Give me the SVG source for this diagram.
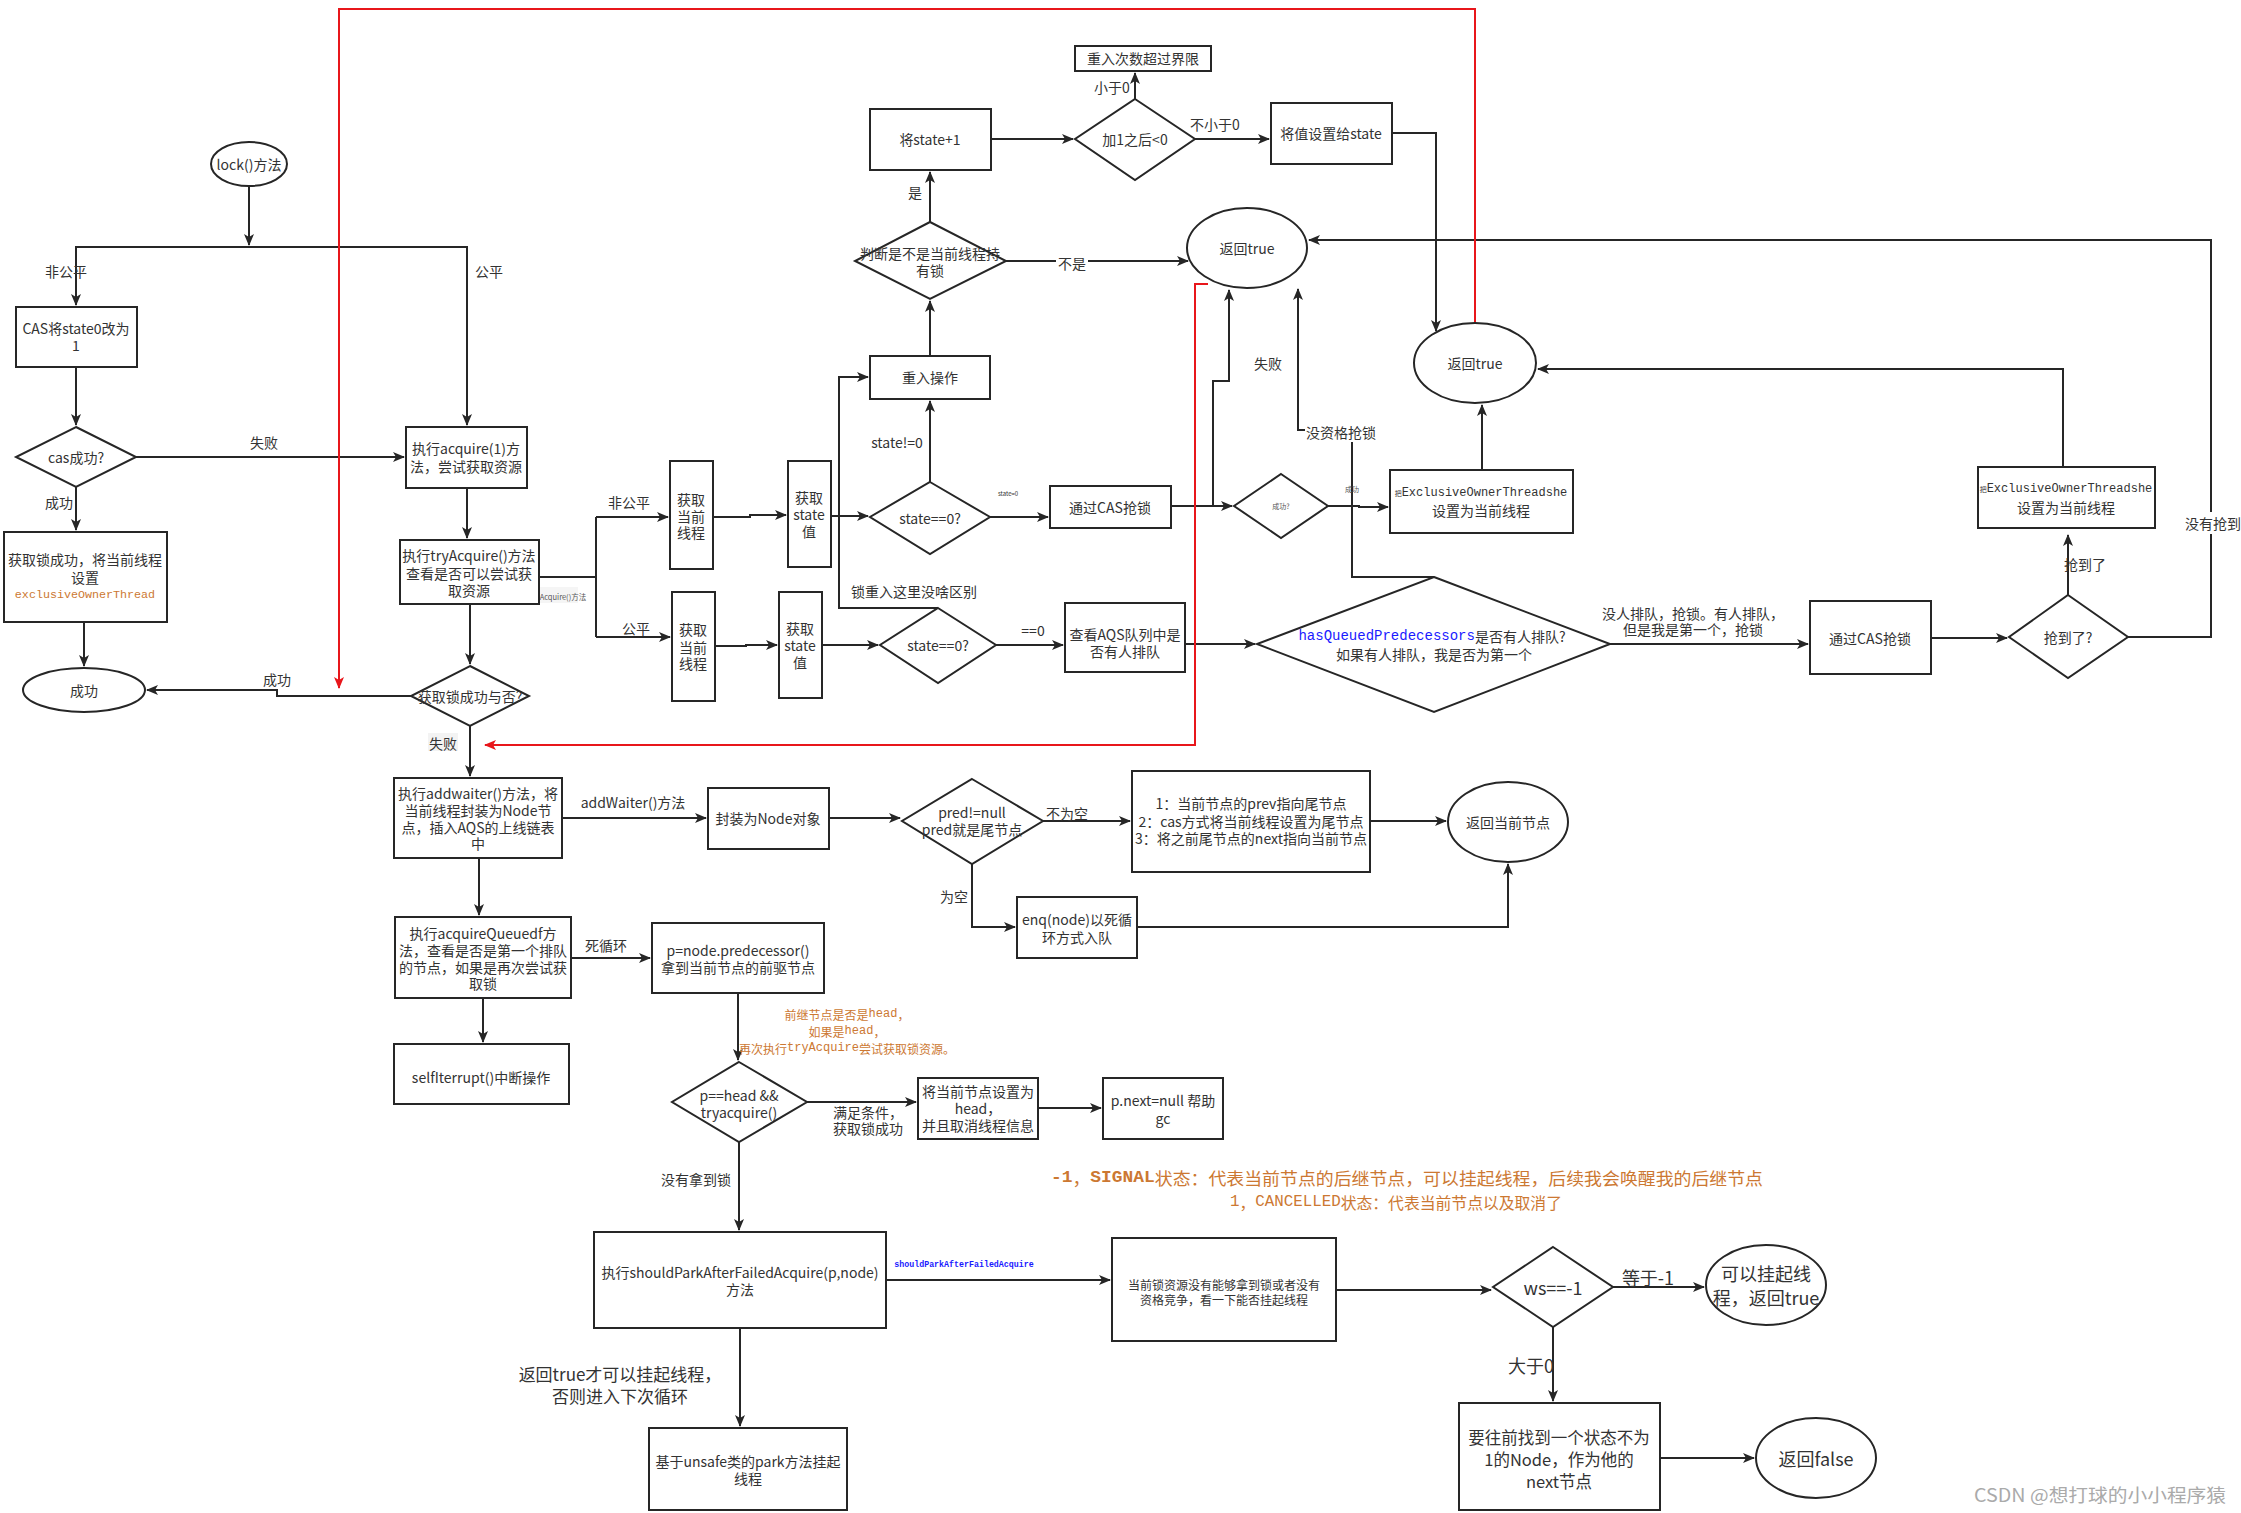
<svg xmlns="http://www.w3.org/2000/svg" width="2241" height="1513" viewBox="0 0 2241 1513">
<style>
.n{fill:#fff;stroke:#262626;stroke-width:2}
.t{font-family:"Noto Sans CJK SC","Noto Sans",sans-serif;font-size:14px;fill:#333;text-anchor:middle;dominant-baseline:central}
.m{font-family:"Liberation Mono","DejaVu Sans Mono",monospace}
.e{fill:none;stroke:#262626;stroke-width:2}
.r{fill:none;stroke:#e8161b;stroke-width:2}
.o{fill:#cc7832}
.big{font-size:18px}
.sm{font-size:12px}
.tiny{font-size:7px;fill:#555}
.lb{fill:#fff;stroke:none}
</style>
<defs>
<marker id="a" viewBox="0 0 12 12" refX="11" refY="6" markerWidth="12" markerHeight="12" markerUnits="userSpaceOnUse" orient="auto"><path d="M0,1 L12,6 L0,11 L3,6z" fill="#262626"/></marker>
<marker id="ar" viewBox="0 0 12 12" refX="11" refY="6" markerWidth="12" markerHeight="12" markerUnits="userSpaceOnUse" orient="auto"><path d="M0,1 L12,6 L0,11 L3,6z" fill="#e8161b"/></marker>
</defs>
<rect width="2241" height="1513" fill="#fff"/>

<g id="connectors">
<path class="e" d="M249,186 V245" marker-end="url(#a)"/>
<path class="e" d="M249,247 H76 V305" marker-end="url(#a)"/>
<path class="e" d="M249,247 H467 V425" marker-end="url(#a)"/>
<path class="e" d="M76,367 V425" marker-end="url(#a)"/>
<path class="e" d="M136,457 H404" marker-end="url(#a)"/>
<path class="e" d="M76,487 V530" marker-end="url(#a)"/>
<path class="e" d="M84,622 V666" marker-end="url(#a)"/>
<path class="e" d="M467,488 V538" marker-end="url(#a)"/>
<path class="e" d="M470,604 V664" marker-end="url(#a)"/>
<path class="e" d="M411,696 H277 V690 H147" marker-end="url(#a)"/>
<path class="e" d="M539,577 H596"/>
<path class="e" d="M596,517 V637"/>
<path class="e" d="M596,517 H668" marker-end="url(#a)"/>
<path class="e" d="M596,637 H670" marker-end="url(#a)"/>
<path class="e" d="M713,517 H750 V515 H786" marker-end="url(#a)"/>
<path class="e" d="M831,516 H868" marker-end="url(#a)"/>
<path class="e" d="M715,646 H746 V645 H777" marker-end="url(#a)"/>
<path class="e" d="M822,645 H878" marker-end="url(#a)"/>
<path class="e" d="M930,482 V401" marker-end="url(#a)"/>
<path class="e" d="M938,608 H839 V377 H868" marker-end="url(#a)"/>
<path class="e" d="M930,356 V301" marker-end="url(#a)"/>
<path class="e" d="M930,222 V172" marker-end="url(#a)"/>
<path class="e" d="M991,139 H1073" marker-end="url(#a)"/>
<path class="e" d="M1135,99 V73" marker-end="url(#a)"/>
<path class="e" d="M1195,139 H1269" marker-end="url(#a)"/>
<path class="e" d="M1392,133 H1436 V331" marker-end="url(#a)"/>
<path class="e" d="M1006,261 H1188" marker-end="url(#a)"/>
<path class="e" d="M990,517 H1048" marker-end="url(#a)"/>
<path class="e" d="M1171,506 H1232" marker-end="url(#a)"/>
<path class="e" d="M1213,506 V381 H1229 V290" marker-end="url(#a)"/>
<path class="e" d="M1328,506 H1359 V507 H1388" marker-end="url(#a)"/>
<path class="e" d="M1482,470 V405" marker-end="url(#a)"/>
<path class="e" d="M996,645 H1063" marker-end="url(#a)"/>
<path class="e" d="M1185,644 H1255" marker-end="url(#a)"/>
<path class="e" d="M1434,577 H1352 V430 H1298 V289" marker-end="url(#a)"/>
<path class="e" d="M1610,644 H1808" marker-end="url(#a)"/>
<path class="e" d="M1931,638 H2007" marker-end="url(#a)"/>
<path class="e" d="M2068,595 V535" marker-end="url(#a)"/>
<path class="e" d="M2128,637 H2211 V240 H1309" marker-end="url(#a)"/>
<path class="e" d="M2063,467 V369 H1538" marker-end="url(#a)"/>
<path class="e" d="M470,726 V776" marker-end="url(#a)"/>
<path class="e" d="M562,818 H706" marker-end="url(#a)"/>
<path class="e" d="M829,818 H900" marker-end="url(#a)"/>
<path class="e" d="M1043,821 H1130" marker-end="url(#a)"/>
<path class="e" d="M1370,821 H1446" marker-end="url(#a)"/>
<path class="e" d="M972,864 V927 H1015" marker-end="url(#a)"/>
<path class="e" d="M1137,927 H1508 V864" marker-end="url(#a)"/>
<path class="e" d="M479,858 V915" marker-end="url(#a)"/>
<path class="e" d="M571,958 H650" marker-end="url(#a)"/>
<path class="e" d="M483,998 V1042" marker-end="url(#a)"/>
<path class="e" d="M738,993 V1060" marker-end="url(#a)"/>
<path class="e" d="M807,1102 H916" marker-end="url(#a)"/>
<path class="e" d="M1038,1108 H1101" marker-end="url(#a)"/>
<path class="e" d="M739,1142 V1230" marker-end="url(#a)"/>
<path class="e" d="M886,1280 H1110" marker-end="url(#a)"/>
<path class="e" d="M740,1328 V1426" marker-end="url(#a)"/>
<path class="e" d="M1336,1290 H1491" marker-end="url(#a)"/>
<path class="e" d="M1613,1287 H1704" marker-end="url(#a)"/>
<path class="e" d="M1553,1327 V1401" marker-end="url(#a)"/>
<path class="e" d="M1660,1458 H1754" marker-end="url(#a)"/>
<path class="r" d="M1475,323 V9 H339 V688" marker-end="url(#ar)"/>
<path class="r" d="M1208,284 H1195 V745 H485" marker-end="url(#ar)"/>

<g id="edge-labels">
<text class="t" x="66" y="271">非公平</text>
<text class="t" x="489" y="271">公平</text>
<text class="t" x="264" y="442">失败</text>
<text class="t" x="59" y="502">成功</text>
<text class="t" x="277" y="679">成功</text>
<rect x="538" y="587" width="40" height="16" fill="#f5f5f5"/>
<text class="t" x="558" y="596" style="font-size:7.5px;fill:#555">tryAcquire()方法</text>
<text class="t" x="629" y="502">非公平</text>
<text class="t" x="636" y="628">公平</text>
<text class="t" x="897" y="442">state!=0</text>
<text class="t" x="914" y="591">锁重入这里没啥区别</text>
<text class="t" x="915" y="192">是</text>
<text class="t" x="1112" y="87">小于0</text>
<text class="t" x="1215" y="124">不小于0</text>
<rect class="lb" x="1056" y="252" width="32" height="18"/>
<text class="t" x="1072" y="263">不是</text>
<text class="t" x="1008" y="493" style="font-size:6px">state=0</text>
<text class="t" x="1268" y="363">失败</text>
<text class="t tiny" x="1352" y="489">成功</text>
<rect class="lb" x="1305" y="422" width="72" height="20"/>
<text class="t" x="1341" y="432">没资格抢锁</text>
<text class="t" x="1033" y="630">==0</text>
<text class="t" x="1693" y="613">没人排队，抢锁。有人排队，</text>
<text class="t" x="1693" y="629">但是我是第一个，抢锁</text>
<text class="t" x="2085" y="564">抢到了</text>
<rect class="lb" x="2183" y="512" width="58" height="22"/>
<text class="t" x="2213" y="523">没有抢到</text>
<rect x="428" y="733" width="30" height="18" fill="#f3f3f3"/>
<text class="t" x="443" y="743">失败</text>
<text class="t" x="633" y="802">addWaiter()方法</text>
<text class="t" x="1067" y="813">不为空</text>
<text class="t" x="954" y="896">为空</text>
<text class="t" x="606" y="945">死循环</text>
<text class="t sm" x="847" y="1014" style="fill:#cc7832">前继节点是否是<tspan class="m">head</tspan>，</text>
<text class="t sm" x="847" y="1031" style="fill:#cc7832">如果是<tspan class="m">head</tspan>，</text>
<text class="t sm" x="847" y="1048" style="fill:#cc7832">再次执行<tspan class="m">tryAcquire</tspan>尝试获取锁资源。</text>
<text class="t" x="868" y="1112">满足条件，</text>
<text class="t" x="868" y="1128">获取锁成功</text>
<text class="t" x="696" y="1179">没有拿到锁</text>
<text class="t m" x="964" y="1264" style="font-size:8.3px;fill:#1a1aff;font-weight:bold">shouldParkAfterFailedAcquire</text>
<text class="t" x="620" y="1373" style="font-size:17px">返回true才可以挂起线程，</text>
<text class="t" x="620" y="1395" style="font-size:17px">否则进入下次循环</text>
<text class="t big" x="1648" y="1277">等于-1</text>
<text class="t big" x="1531" y="1365">大于0</text>
</g>
</g>

<g id="lock"><ellipse class="n" cx="249" cy="164" rx="38" ry="22"/><text class="t" x="249" y="164">lock()方法</text></g>
<g id="cas"><rect class="n" x="16" y="307" width="121" height="60"/><text class="t" x="76" y="328">CAS将state0改为</text><text class="t" x="76" y="345">1</text></g>
<g id="casOk"><polygon class="n" points="76,427 136,457 76,487 16,457"/><text class="t" x="76" y="457">cas成功?</text></g>
<g id="gotLock"><rect class="n" x="4" y="532" width="163" height="90"/><text class="t" x="85" y="559">获取锁成功，将当前线程</text><text class="t" x="85" y="577">设置</text><text class="t m o" x="85" y="595" style="font-size:11.7px">exclusiveOwnerThread</text></g>
<g id="success"><ellipse class="n" cx="84" cy="690" rx="61" ry="22"/><text class="t" x="84" y="690">成功</text></g>
<g id="acquire"><rect class="n" x="406" y="427" width="121" height="61"/><text class="t" x="466" y="448">执行acquire(1)方</text><text class="t" x="466" y="466">法，尝试获取资源</text></g>
<g id="tryAcquire"><rect class="n" x="400" y="540" width="139" height="64"/><text class="t" x="469" y="555">执行tryAcquire()方法</text><text class="t" x="469" y="573">查看是否可以尝试获</text><text class="t" x="469" y="590">取资源</text></g>
<g id="lockOk"><polygon class="n" points="470,666 529,696 470,726 411,696"/><text class="t" x="470" y="696">获取锁成功与否?</text></g>
<g id="thread1"><rect class="n" x="670" y="461" width="43" height="108"/><text class="t" x="691" y="499">获取</text><text class="t" x="691" y="516">当前</text><text class="t" x="691" y="532">线程</text></g>
<g id="state1"><rect class="n" x="788" y="461" width="43" height="106"/><text class="t" x="809" y="497">获取</text><text class="t" x="809" y="514">state</text><text class="t" x="809" y="531">值</text></g>
<g id="stateZero1"><polygon class="n" points="930,482 990,517 930,554 870,517"/><text class="t" x="930" y="518">state==0?</text></g>
<g id="reentry"><rect class="n" x="870" y="356" width="120" height="43"/><text class="t" x="930" y="377">重入操作</text></g>
<g id="isOwner"><polygon class="n" points="930,222 1006,261 930,299 855,261"/><text class="t" x="930" y="253">判断是不是当前线程持</text><text class="t" x="930" y="270">有锁</text></g>
<g id="statePlus"><rect class="n" x="870" y="109" width="121" height="61"/><text class="t" x="930" y="139">将state+1</text></g>
<g id="plusCheck"><polygon class="n" points="1135,99 1195,139 1135,180 1075,139"/><text class="t" x="1135" y="139">加1之后&lt;0</text></g>
<g id="overLimit"><rect class="n" x="1075" y="46" width="136" height="25"/><text class="t" x="1143" y="58">重入次数超过界限</text></g>
<g id="setState"><rect class="n" x="1271" y="103" width="121" height="61"/><text class="t" x="1331" y="133">将值设置给state</text></g>
<g id="returnTrue1"><ellipse class="n" cx="1247" cy="248" rx="60" ry="40"/><text class="t" x="1247" y="248">返回true</text></g>
<g id="returnTrue2"><ellipse class="n" cx="1475" cy="363" rx="61" ry="40"/><text class="t" x="1475" y="363">返回true</text></g>
<g id="casTop"><rect class="n" x="1050" y="486" width="121" height="42"/><text class="t" x="1110" y="507">通过CAS抢锁</text></g>
<g id="casTopOk"><polygon class="n" points="1281,474 1328,506 1281,538 1234,506"/><text class="t tiny" x="1281" y="506">成功?</text></g>
<g id="ownerTop"><rect class="n" x="1390" y="470" width="183" height="63"/><text class="t" x="1481" y="493"><tspan style="font-size:7px">把</tspan><tspan class="m" style="font-size:12px">ExclusiveOwnerThreadshe</tspan></text><text class="t" x="1481" y="510">设置为当前线程</text></g>
<g id="thread2"><rect class="n" x="672" y="592" width="43" height="109"/><text class="t" x="693" y="629">获取</text><text class="t" x="693" y="647">当前</text><text class="t" x="693" y="663">线程</text></g>
<g id="state2"><rect class="n" x="779" y="592" width="43" height="106"/><text class="t" x="800" y="628">获取</text><text class="t" x="800" y="645">state</text><text class="t" x="800" y="662">值</text></g>
<g id="stateZero2"><polygon class="n" points="938,608 996,645 938,683 880,645"/><text class="t" x="938" y="645">state==0?</text></g>
<g id="checkQueue"><rect class="n" x="1065" y="603" width="120" height="69"/><text class="t" x="1125" y="634">查看AQS队列中是</text><text class="t" x="1125" y="651">否有人排队</text></g>
<g id="hasQueued"><polygon class="n" points="1434,577 1610,644 1434,712 1257,644"/><text class="t" x="1432" y="636"><tspan class="m" style="fill:#1a1aff">hasQueuedPredecessors</tspan>是否有人排队?</text><text class="t" x="1434" y="654">如果有人排队，我是否为第一个</text></g>
<g id="casBottom"><rect class="n" x="1810" y="601" width="121" height="73"/><text class="t" x="1870" y="638">通过CAS抢锁</text></g>
<g id="grabbed"><polygon class="n" points="2068,595 2128,637 2068,678 2009,637"/><text class="t" x="2068" y="637">抢到了?</text></g>
<g id="ownerRight"><rect class="n" x="1978" y="467" width="177" height="61"/><text class="t" x="2066" y="489"><tspan style="font-size:7px">把</tspan><tspan class="m" style="font-size:12px">ExclusiveOwnerThreadshe</tspan></text><text class="t" x="2066" y="507">设置为当前线程</text></g>
<g id="addWaiter"><rect class="n" x="394" y="778" width="168" height="80"/><text class="t" x="478" y="793">执行addwaiter()方法，将</text><text class="t" x="478" y="810">当前线程封装为Node节</text><text class="t" x="478" y="827">点，插入AQS的上线链表</text><text class="t" x="478" y="843">中</text></g>
<g id="wrapNode"><rect class="n" x="708" y="788" width="121" height="61"/><text class="t" x="768" y="818">封装为Node对象</text></g>
<g id="pred"><polygon class="n" points="972,779 1043,821 972,864 902,821"/><text class="t" x="972" y="812">pred!=null</text><text class="t" x="972" y="829">pred就是尾节点</text></g>
<g id="steps"><rect class="n" x="1132" y="771" width="238" height="101"/><text class="t" x="1251" y="803">1：当前节点的prev指向尾节点</text><text class="t" x="1251" y="821">2：cas方式将当前线程设置为尾节点</text><text class="t" x="1251" y="838">3：将之前尾节点的next指向当前节点</text></g>
<g id="returnNode"><ellipse class="n" cx="1508" cy="822" rx="60" ry="40"/><text class="t" x="1508" y="822">返回当前节点</text></g>
<g id="enq"><rect class="n" x="1017" y="897" width="120" height="61"/><text class="t" x="1077" y="919">enq(node)以死循</text><text class="t" x="1077" y="937">环方式入队</text></g>
<g id="acquireQueued"><rect class="n" x="395" y="917" width="176" height="81"/><text class="t" x="483" y="933">执行acquireQueuedf方</text><text class="t" x="483" y="950">法，查看是否是第一个排队</text><text class="t" x="483" y="967">的节点，如果是再次尝试获</text><text class="t" x="483" y="983">取锁</text></g>
<g id="predNode"><rect class="n" x="652" y="923" width="172" height="70"/><text class="t" x="738" y="950">p=node.predecessor()</text><text class="t" x="738" y="967">拿到当前节点的前驱节点</text></g>
<g id="selfInterrupt"><rect class="n" x="394" y="1044" width="175" height="60"/><text class="t" x="481" y="1077">selfIterrupt()中断操作</text></g>
<g id="isHead"><polygon class="n" points="739,1062 807,1102 739,1142 672,1102"/><text class="t" x="739" y="1095">p==head &amp;&amp;</text><text class="t" x="739" y="1112">tryacquire()</text></g>
<g id="setHead"><rect class="n" x="918" y="1078" width="120" height="61"/><text class="t" x="978" y="1091">将当前节点设置为</text><text class="t" x="978" y="1108">head，</text><text class="t" x="978" y="1125">并且取消线程信息</text></g>
<g id="pNext"><rect class="n" x="1103" y="1078" width="120" height="61"/><text class="t" x="1163" y="1100">p.next=null 帮助</text><text class="t" x="1163" y="1118">gc</text></g>
<g id="note">
<text class="t o" x="1407" y="1177" style="font-size:17px" textLength="712" lengthAdjust="spacingAndGlyphs"><tspan class="m" style="font-weight:bold">-1</tspan>，<tspan class="m" style="font-weight:bold">SIGNAL</tspan>状态：代表当前节点的后继节点，可以挂起线程，后续我会唤醒我的后继节点</text>
<text class="t o" x="1396" y="1202" style="font-size:16px" textLength="332" lengthAdjust="spacingAndGlyphs"><tspan class="m">1</tspan>，<tspan class="m">CANCELLED</tspan>状态：代表当前节点以及取消了</text>
</g>
<g id="shouldPark"><rect class="n" x="594" y="1232" width="292" height="96"/><text class="t" x="740" y="1272">执行shouldParkAfterFailedAcquire(p,node)</text><text class="t" x="740" y="1289">方法</text></g>
<g id="currentLock"><rect class="n" x="1112" y="1238" width="224" height="103"/><text class="t sm" x="1224" y="1284">当前锁资源没有能够拿到锁或者没有</text><text class="t sm" x="1224" y="1299">资格竞争，看一下能否挂起线程</text></g>
<g id="ws"><polygon class="n" points="1553,1247 1613,1287 1553,1327 1493,1287"/><text class="t big" x="1553" y="1287">ws==-1</text></g>
<g id="canPark"><ellipse class="n" cx="1766" cy="1285" rx="60" ry="40"/><text class="t big" x="1766" y="1273">可以挂起线</text><text class="t big" x="1766" y="1297">程，返回true</text></g>
<g id="findNode"><rect class="n" x="1459" y="1403" width="201" height="107"/><text class="t" x="1559" y="1437" style="font-size:16.5px">要往前找到一个状态不为</text><text class="t" x="1559" y="1459" style="font-size:16.5px">1的Node，作为他的</text><text class="t" x="1559" y="1481" style="font-size:16.5px">next节点</text></g>
<g id="returnFalse"><ellipse class="n" cx="1816" cy="1458" rx="60" ry="40"/><text class="t big" x="1816" y="1458">返回false</text></g>
<g id="park"><rect class="n" x="649" y="1428" width="198" height="82"/><text class="t" x="748" y="1461">基于unsafe类的park方法挂起</text><text class="t" x="748" y="1478">线程</text></g>
<text class="t" x="2100" y="1494" style="font-size:18px;fill:#aaa" textLength="252" lengthAdjust="spacingAndGlyphs">CSDN @想打球的小小程序猿</text>
</svg>
